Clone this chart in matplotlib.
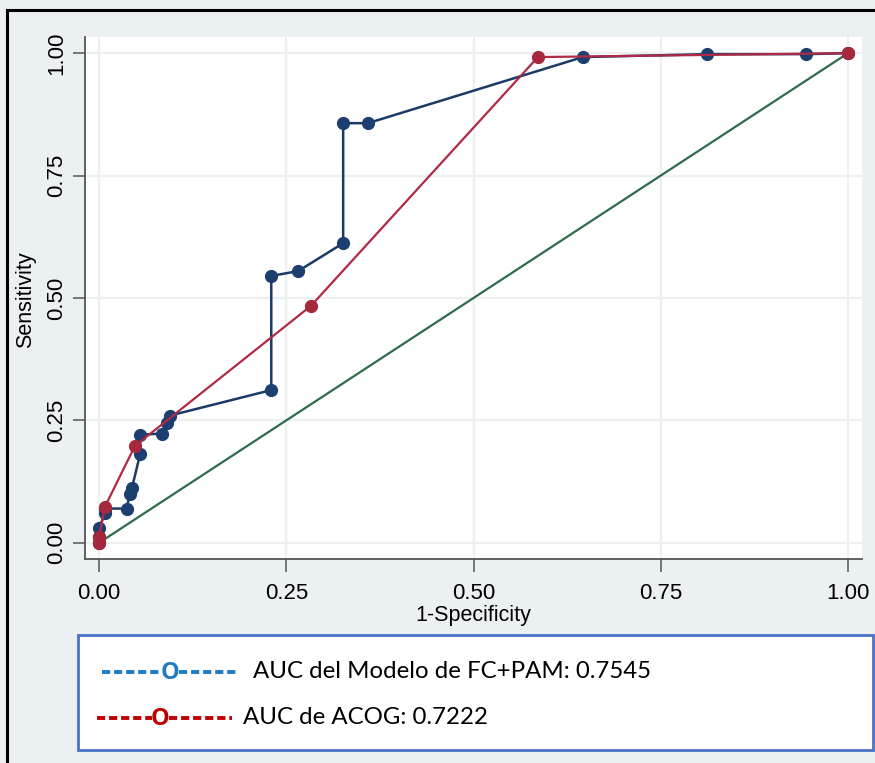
import matplotlib
matplotlib.use("Agg")
import matplotlib.pyplot as plt
from matplotlib.patches import Rectangle
from matplotlib.lines import Line2D

# ---- data ----
fpr_model = [0.0, 0.0, 0.0, 0.008, 0.008, 0.037, 0.041, 0.044, 0.055, 0.055, 0.084,
             0.091, 0.095, 0.230, 0.230, 0.266, 0.326, 0.326, 0.359, 0.646, 0.812,
             0.944, 1.0]
sens_model = [0.0, 0.012, 0.03, 0.06, 0.07, 0.07, 0.10, 0.112, 0.182, 0.221, 0.223,
              0.245, 0.26, 0.312, 0.545, 0.555, 0.612, 0.857, 0.857, 0.992, 0.998,
              0.998, 1.0]
fpr_acog = [0.0, 0.0, 0.008, 0.048, 0.283, 0.586, 1.0]
sens_acog = [0.0, 0.012, 0.074, 0.198, 0.484, 0.992, 1.0]
ref_line = [0.0, 1.0]
ticks = [0.0, 0.25, 0.5, 0.75, 1.0]
tick_labels = ["0.00", "0.25", "0.50", "0.75", "1.00"]
legend_labels = ["AUC del Modelo de FC+PAM: 0.7545", "AUC de ACOG: 0.7222"]

W, H = 875, 763
fig = plt.figure(figsize=(W / 100, H / 100), dpi=100)
fig.patch.set_facecolor("#ebf1f3")

def fx(px):
    return px / W

def fy(py):
    return 1 - py / H

# outer black frame (left & top)
fig.add_artist(Line2D([fx(7), fx(7)], [fy(10), 0], color="black", lw=2.2))
fig.add_artist(Line2D([fx(7), 1], [fy(10), fy(10)], color="black", lw=2.2))

ax = fig.add_axes([fx(85), fy(559), fx(862) - fx(85), fy(37) - fy(559)])
ax.set_facecolor("white")
ax.set_xlim(-0.0187, 1.0187)
ax.set_ylim(-0.033, 1.033)

for t in ticks:
    ax.axhline(t, color="#eef0f0", lw=1.6, zorder=0)
    ax.axvline(t, color="#eef0f0", lw=1.6, zorder=0)

ax.plot(ref_line, ref_line, color="#2f6b4c", lw=1.6, zorder=2)
ax.plot(fpr_model, sens_model, color="#1c3a66", lw=1.8, marker="o",
        markersize=8.5, markerfacecolor="#1d3f70", markeredgecolor="#1d3f70", zorder=3)
ax.plot(fpr_acog, sens_acog, color="#b02a45", lw=1.6, marker="o",
        markersize=8.5, markerfacecolor="#a5283c", markeredgecolor="#a5283c", zorder=4)

for s in ["top", "right"]:
    ax.spines[s].set_visible(False)
for s in ["left", "bottom"]:
    ax.spines[s].set_color("#555555")
    ax.spines[s].set_linewidth(1.3)

ax.set_xticks(ticks)
ax.set_xticklabels(tick_labels, fontfamily="Liberation Sans", fontsize=16)
ax.set_yticks(ticks)
ax.set_yticklabels(tick_labels, fontfamily="Liberation Sans", fontsize=16,
                   rotation=90, va="center")
ax.tick_params(axis="x", length=9, width=1.1, color="#555555", pad=8)
ax.tick_params(axis="y", length=9, width=1.1, color="#555555", pad=4)
ax.set_xlabel("1-Specificity", fontfamily="Liberation Sans", fontsize=15.5, labelpad=1)
ax.set_ylabel("Sensitivity", fontfamily="Liberation Sans", fontsize=15.5)
ax.yaxis.set_label_coords((36 - 85) / (862 - 85), (559 - 300) / (559 - 37))

# legend box
fig.add_artist(Rectangle((fx(78), fy(750)), fx(873) - fx(78), fy(635) - fy(750),
                         facecolor="white", edgecolor="#4a72c8", lw=2))
leg_colors = ["#1f7cc4", "#c00000"]
leg_y = [672, 718]
left_seg = [(102, 161), (97, 152)]
right_seg = [(179, 238), (169, 232)]
o_x = [170, 160]
txt_x = [253, 243]
for lab, c, yy, ls, rs, ox, tx in zip(legend_labels, leg_colors, leg_y, left_seg,
                                      right_seg, o_x, txt_x):
    for seg in (ls, rs):
        fig.add_artist(Line2D([fx(seg[0]), fx(seg[1])], [fy(yy), fy(yy)], color=c,
                              lw=2.8, dashes=(2.1, 1.0), solid_capstyle="butt",
                              dash_capstyle="butt"))
    fig.text(fx(ox), fy(yy + 1), "O", color=c, fontfamily="Open Sans",
             fontweight="bold", fontsize=17, va="center", ha="center")
    fig.text(fx(tx), fy(yy), lab, color="black", fontfamily="Lato",
             fontsize=17.3, va="center", ha="left")

fig.savefig("out.png", dpi=100, facecolor=fig.get_facecolor())
